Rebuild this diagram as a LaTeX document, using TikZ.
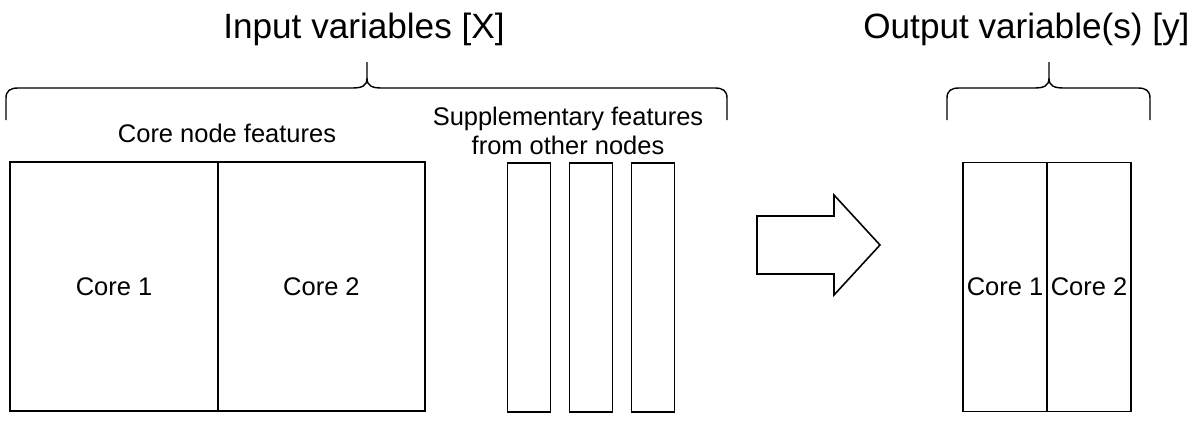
\documentclass[tikz,border=0pt]{standalone}
\usepackage{fontspec}
\setmainfont{Liberation Sans}
\usetikzlibrary{positioning}

\begin{document}
\begin{tikzpicture}[
  x=0.02cm, y=-0.02cm,
  cell/.style={draw, line width=0.9pt, minimum height=4.98cm, inner sep=0pt, outer sep=0pt, font=\fontsize{14.5}{16.5}\selectfont},
  strip/.style={cell, minimum width=0.86cm},
  heading/.style={font=\fontsize{20}{24}\selectfont, inner sep=0pt, anchor=base},
  caption/.style={font=\fontsize{14.5}{16.5}\selectfont, align=center, inner sep=0pt},
  brace/.style={line width=0.8pt}
]
  \useasboundingbox (0,0) rectangle (1191,427);

  % headings
  \node[heading] (intitle) at (364,38) {Input variables [X]};
  \node[heading, anchor=base west] (outtitle) at (863,38) {Output variable(s) [y]};

  % curly brackets under the headings
  \foreach \l/\m/\r in {6/367/727, 947/1049/1150}
    \draw[brace] (\l,120) -- (\l,98) .. controls (\l,91) and (\l+4,88) .. (\l+12,88)
      -- (\m-15,88) .. controls (\m-5,88) and (\m,86) .. (\m,78) -- (\m,62)
      (\m,78) .. controls (\m,86) and (\m+5,88) .. (\m+15,88)
      -- (\r-12,88) .. controls (\r-4,88) and (\r,91) .. (\r,98) -- (\r,120);

  % core node features
  \node[caption, anchor=base] (corecap) at (227,142) {Core node features};
  \node[cell, minimum width=4.16cm] (core1) at (114,286.5) {Core 1};
  \node[cell, minimum width=4.14cm, right=0pt of core1] (core2) {Core 2};

  % supplementary features
  \node[caption] (suppcap) at (568,131) {Supplementary features\\from other nodes};
  \node[strip] (supp1) at (529,287.5) {};
  \node[strip, right=0.38cm of supp1] (supp2) {};
  \node[strip, right=0.38cm of supp2] (supp3) {};

  % block arrow
  \draw[line width=0.9pt] (757,216) -- (834,216) -- (834,195) -- (880,245)
    -- (834,295) -- (834,274) -- (757,274) -- cycle;

  % output
  \node[cell, minimum width=1.68cm] (out1) at (1005,287) {Core 1};
  \node[cell, minimum width=1.68cm, right=0pt of out1] (out2) {Core 2};
\end{tikzpicture}
\end{document}
